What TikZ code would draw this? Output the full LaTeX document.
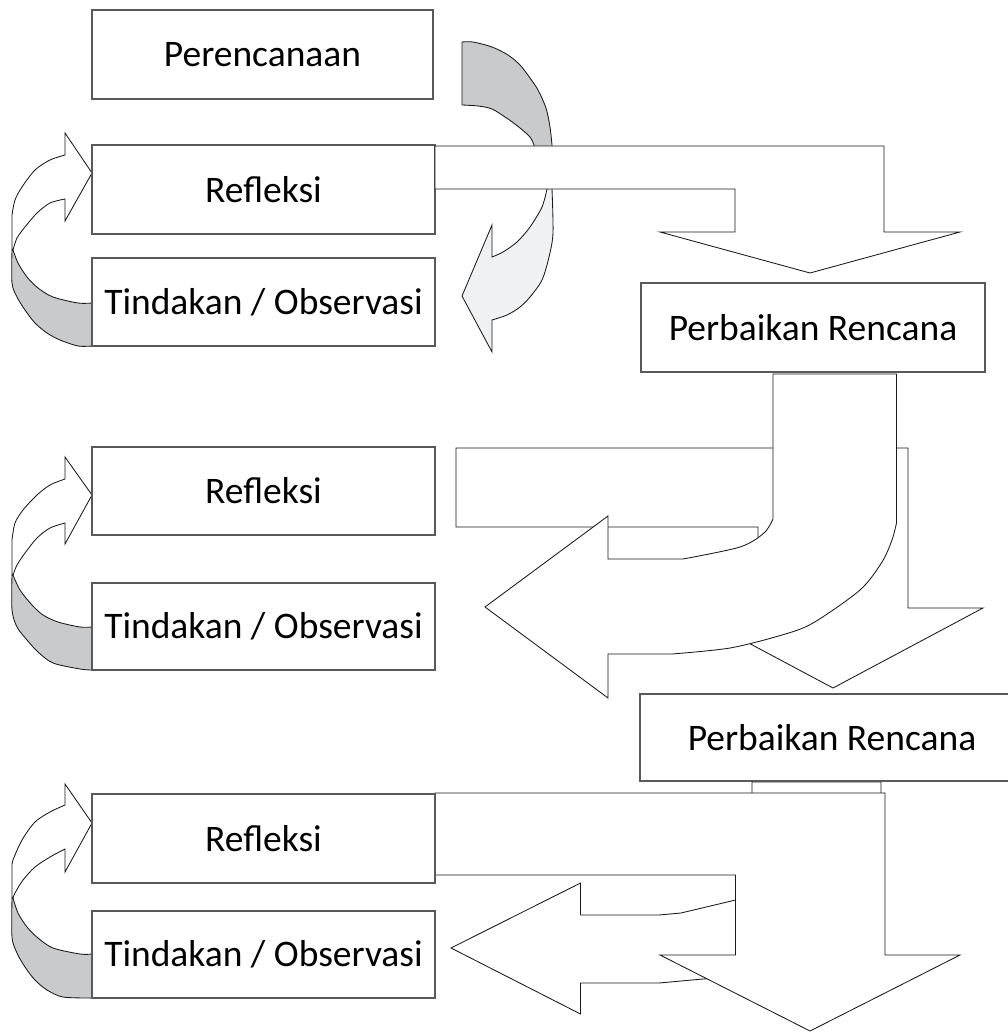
\documentclass[tikz,border=0pt]{standalone}
\usepackage{fontspec}
\setmainfont{Carlito}
\definecolor{shadeDark}{RGB}{201,202,204}
\definecolor{shadeLight}{RGB}{240,241,243}
\begin{document}
\begin{tikzpicture}[x=1pt,y=-1pt,
  box/.style={draw=black!65, line width=1.1pt, fill=white, inner sep=0pt, outer sep=0pt,
              font=\fontsize{37.5}{40}\selectfont},
  blk/.style={draw=black!90, line width=0.85pt, fill=white, line join=miter},
  dk/.style={blk, fill=shadeDark},
  lt/.style={blk, fill=shadeLight}]
\useasboundingbox (0,0) rectangle (1008,1033);
\clip (0,0) rectangle (1008,1033);

% ---------- left loop arrows ----------
% section 1
\filldraw[blk] (92,173) -- (65,133) -- plot[smooth] coordinates {(65,155) (50,160) (35,170) (22,187) (15,200) (12,215)}
  -- (12,250) -- plot[smooth] coordinates {(13,250) (17,238) (25,227) (37,213) (50,203) (65,199)} -- (65,221) -- cycle;
\filldraw[dk] plot[smooth] coordinates {(12,250) (12,283) (17,297) (25,310) (35,323) (47,333) (60,340) (78,346) (92,346)}
  -- plot[smooth] coordinates {(92,303) (78,303) (53,297) (38,288) (27,277) (18,263) (13,250)} -- cycle;
% section 2
\filldraw[blk] (92,495) -- (65,457) -- plot[smooth] coordinates {(65,479) (50,485) (37,495) (23,510) (15,523) (12,540)}
  -- (12,575) -- plot[smooth] coordinates {(13,575) (17,565) (25,553) (37,538) (50,528) (65,523)} -- (65,544) -- cycle;
\filldraw[dk] plot[smooth] coordinates {(12,575) (12,610) (17,627) (27,640) (38,652) (53,663) (80,669) (92,670)}
  -- plot[smooth] coordinates {(92,627) (80,627) (58,622) (43,615) (32,605) (20,590) (13,575)} -- cycle;
% section 3
\filldraw[blk] (92,823) -- (65,784) -- plot[smooth] coordinates {(65,805) (50,812) (35,822) (22,840) (13,860) (12,867)}
  -- (12,898) -- plot[smooth] coordinates {(13,898) (15,893) (23,880) (35,867) (50,857) (65,849)} -- (65,872) -- cycle;
\filldraw[dk] plot[smooth] coordinates {(12,898) (12,937) (17,953) (25,967) (35,980) (47,990) (63,997) (92,998)}
  -- plot[smooth] coordinates {(92,954) (80,954) (53,948) (38,938) (27,927) (18,913) (13,898)} -- cycle;

% ---------- section 1 ----------
% curved arrow from Perencanaan (behind the bent arrow)
\filldraw[dk] plot[smooth] coordinates {(462,42) (473,42) (492,47) (508,55) (520,65) (530,78) (538,90) (546,108) (550,127) (552,145)}
  -- (552,165) -- (537,165)
  -- plot[smooth] coordinates {(534,145) (530,137) (520,128) (508,119) (492,109) (478,106) (462,105)} -- cycle;
\filldraw[lt] (547,172) -- (552,172)
  -- plot[smooth] coordinates {(552,189) (553,233) (549,257) (542,280) (530,297) (520,307) (507,315) (492,320)}
  -- (492,352) -- (462,296) -- (492,225)
  -- plot[smooth] coordinates {(492,257) (503,252) (517,242) (530,227) (542,207) (547,189)} -- cycle;

\node[box, minimum width=341pt, minimum height=89pt] (plan) at (262.5,54.5) {Perencanaan};
\node[box, minimum width=343pt, minimum height=89pt] (ref1) at (263.5,189.5) {Refleksi};
\node[box, minimum width=343pt, minimum height=88pt] (tin1) at (263.5,302) {Tindakan / Observasi};

% bent arrow Refleksi -> Perbaikan Rencana
\filldraw[blk] (ref1.north east) ++(0,1) -- (884,146) -- (884,232) -- (960,232) -- (810,273) -- (660,232)
  -- (735,232) -- (735,189) -- (435,189) -- cycle;

\node[box, minimum width=344pt, minimum height=89pt] (pr1) at (813,327.5) {Perbaikan Rencana};

% ---------- section 2 ----------
\filldraw[blk] (456,448) -- (908,448) -- (908,608) -- (983,608) -- (833,688) -- (683,608)
  -- (758,608) -- (758,527) -- (456,527) -- cycle;
\filldraw[blk] (773,374) -- plot[smooth] coordinates {(773,519) (764,533) (740,547) (683,559)}
  -- (608,559) -- (608,516) -- (485,607) -- (608,698) -- (608,654)
  -- plot[smooth] coordinates {(672,654) (730,648) (782,635) (813,623) (860,590) (882,562) (892,540) (896.5,523)}
  -- (896.5,374) -- cycle;

\node[box, minimum width=343pt, minimum height=88pt] (ref2) at (263.5,491) {Refleksi};
\node[box, minimum width=343pt, minimum height=87pt] (tin2) at (263.5,626.5) {Tindakan / Observasi};

% ---------- section 3 ----------
\filldraw[blk] (752,782) -- (752,880) .. controls (752,892) and (746,897) .. (735.5,900)
  -- (681,913) -- (659,915) -- (580.5,915) -- (580.5,883) -- (451,948) -- (580.5,1014) -- (580.5,983)
  -- (659,983) -- (703,979) .. controls (800,972) and (881,965) .. (881,940) -- (881,782) -- cycle;
\filldraw[blk] (435,793) -- (885,793) -- (885,955) -- (960,955) -- (810,1031) -- (660,955)
  -- (735.5,955) -- (735.5,875) -- (435,875) -- cycle;

\node[box, minimum width=384pt, minimum height=87pt] (pr2) at (832,737.5) {Perbaikan Rencana};
\node[box, minimum width=343pt, minimum height=89pt] (ref3) at (263.5,838.5) {Refleksi};
\node[box, minimum width=343pt, minimum height=87pt] (tin3) at (263.5,954.5) {Tindakan / Observasi};
\end{tikzpicture}
\end{document}
